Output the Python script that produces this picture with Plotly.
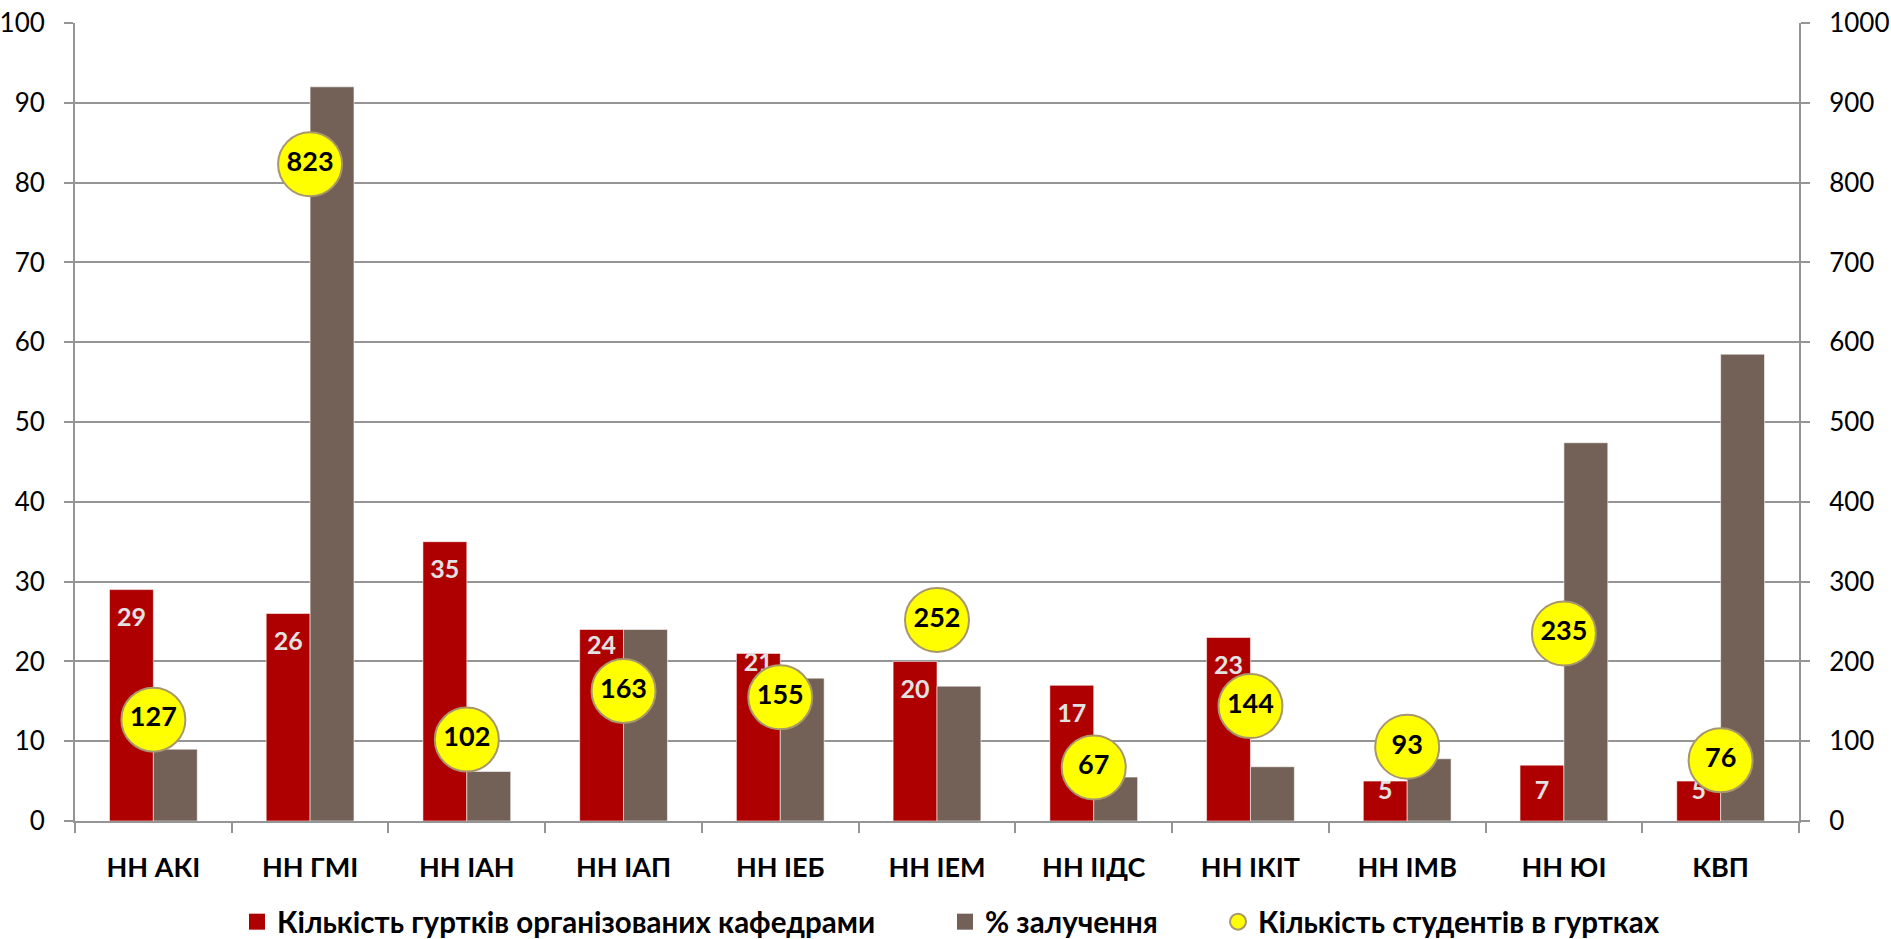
import plotly.graph_objects as go

# Institutes / departments
categories = ["НН АКІ", "НН ГМІ", "НН ІАН", "НН ІАП", "НН ІЕБ", "НН ІЕМ",
              "НН ІІДС", "НН ІКІТ", "НН ІМВ", "НН ЮІ", "КВП"]
# Number of clubs organised by departments (left axis)
clubs = [29, 26, 35, 24, 21, 20, 17, 23, 5, 7, 5]
# Involvement, % (left axis)
involvement = [9.0, 92.0, 6.2, 24.0, 17.9, 16.9, 5.5, 6.8, 7.8, 47.4, 58.5]
# Number of students in clubs (right axis)
students = [127, 823, 102, 163, 155, 252, 67, 144, 93, 235, 76]

series_names = ["Кількість гуртків організованих кафедрами",
                "% залучення",
                "Кількість студентів в гуртках"]

RED = "#AF0000"
BROWN = "#736157"
YELLOW = "#FFFF00"
GRID = "#959595"
FONT = "Lato"

W, H = 1891, 939
M_L, M_R, M_T, M_B = 75, 92, 23, 118
BAR_W = 0.28

idx = list(range(len(categories)))
plot_h = H - M_T - M_B
px_per_unit = plot_h / 100.0

# value labels sit a little below the top of each red bar
label_drop = [min(30, v * px_per_unit - 28) for v in clubs]
label_drop[3] = 18
label_drop[4] = 11
label_y = [v - d / px_per_unit for v, d in zip(clubs, label_drop)]

fig = go.Figure()

fig.add_trace(go.Bar(
    x=idx, y=clubs, width=BAR_W, offset=-BAR_W,
    marker=dict(color=RED, line=dict(color="rgba(255,255,255,0.55)", width=1)),
    name=series_names[0], showlegend=False, legendgroup="a",
    hoverinfo="y",
))
fig.add_trace(go.Bar(
    x=idx, y=involvement, width=BAR_W, offset=0,
    marker=dict(color=BROWN, line=dict(color="rgba(255,255,255,0.55)", width=1)),
    name=series_names[1], showlegend=False, legendgroup="b",
    hoverinfo="y",
))
fig.add_trace(go.Scatter(
    x=[i - BAR_W / 2 for i in idx], y=label_y, mode="text",
    text=[str(v) for v in clubs],
    textfont=dict(family=FONT, size=25, color="#E2E2E2", weight="bold"),
    textposition="middle center", showlegend=False, hoverinfo="skip",
))
fig.add_trace(go.Scatter(
    x=idx, y=students, yaxis="y2", mode="markers+text",
    marker=dict(size=64, color=YELLOW, line=dict(color="#A8976C", width=2)),
    text=[str(v) for v in students],
    textfont=dict(family=FONT, size=27, color="black", weight="bold"),
    textposition="middle center",
    name=series_names[2], showlegend=False, legendgroup="c",
))

# legend entries, each in its own legend box along the bottom
legend_text_x = [277, 985, 1258]
legend_symbols = [dict(symbol="square", size=20, color=RED),
                  dict(symbol="square", size=20, color=BROWN),
                  dict(symbol="circle", size=20, color=YELLOW,
                       line=dict(color="#A8976C", width=2))]
legend_ids = ["legend", "legend2", "legend3"]
for name, sym, lid, grp in zip(series_names, legend_symbols, legend_ids, "abc"):
    fig.add_trace(go.Scatter(x=[None], y=[None], mode="markers", name=name,
                             marker=sym, legendgroup=grp, legend=lid))

legend_style = dict(
    orientation="h", xref="container", yref="container",
    xanchor="left", y=17 / H, yanchor="middle",
    font=dict(family=FONT, size=29.5, color="black", weight="bold"),
    itemsizing="trace", bgcolor="rgba(0,0,0,0)",
)

fig.update_layout(
    width=W, height=H,
    margin=dict(l=M_L, r=M_R, t=M_T, b=M_B, autoexpand=False),
    paper_bgcolor="white", plot_bgcolor="white",
    font=dict(family=FONT, color="black"),
    barmode="overlay",
    xaxis=dict(
        range=[-0.5, len(categories) - 0.5],
        tickvals=idx, ticktext=categories,
        ticks="", ticklabelstandoff=22,
        tickfont=dict(family=FONT, size=27, color="black", weight="bold"),
        showgrid=False, zeroline=False,
        showline=True, linecolor=GRID, linewidth=2,
        minor=dict(tickvals=[i - 0.5 for i in range(len(categories) + 1)],
                   ticks="outside", ticklen=10, tickcolor=GRID, tickwidth=2,
                   showgrid=False),
    ),
    yaxis=dict(
        range=[0, 100], dtick=10,
        ticks="outside", ticklen=9, tickcolor=GRID, tickwidth=2,
        ticklabelstandoff=14,
        tickfont=dict(family=FONT, size=26, color="black"),
        showgrid=True, gridcolor=GRID, gridwidth=2,
        zeroline=False, showline=True, linecolor=GRID, linewidth=2,
    ),
    yaxis2=dict(
        range=[0, 1000], dtick=100, overlaying="y", side="right",
        ticks="outside", ticklen=9, tickcolor=GRID, tickwidth=2,
        ticklabelstandoff=14,
        tickfont=dict(family=FONT, size=26, color="black"),
        showgrid=False, zeroline=False,
        showline=True, linecolor=GRID, linewidth=2,
    ),
    legend=dict(legend_style, x=(legend_text_x[0] - 40) / W),
    legend2=dict(legend_style, x=(legend_text_x[1] - 40) / W),
    legend3=dict(legend_style, x=(legend_text_x[2] - 40) / W),
    showlegend=True,
)

fig.write_html("out.html")
